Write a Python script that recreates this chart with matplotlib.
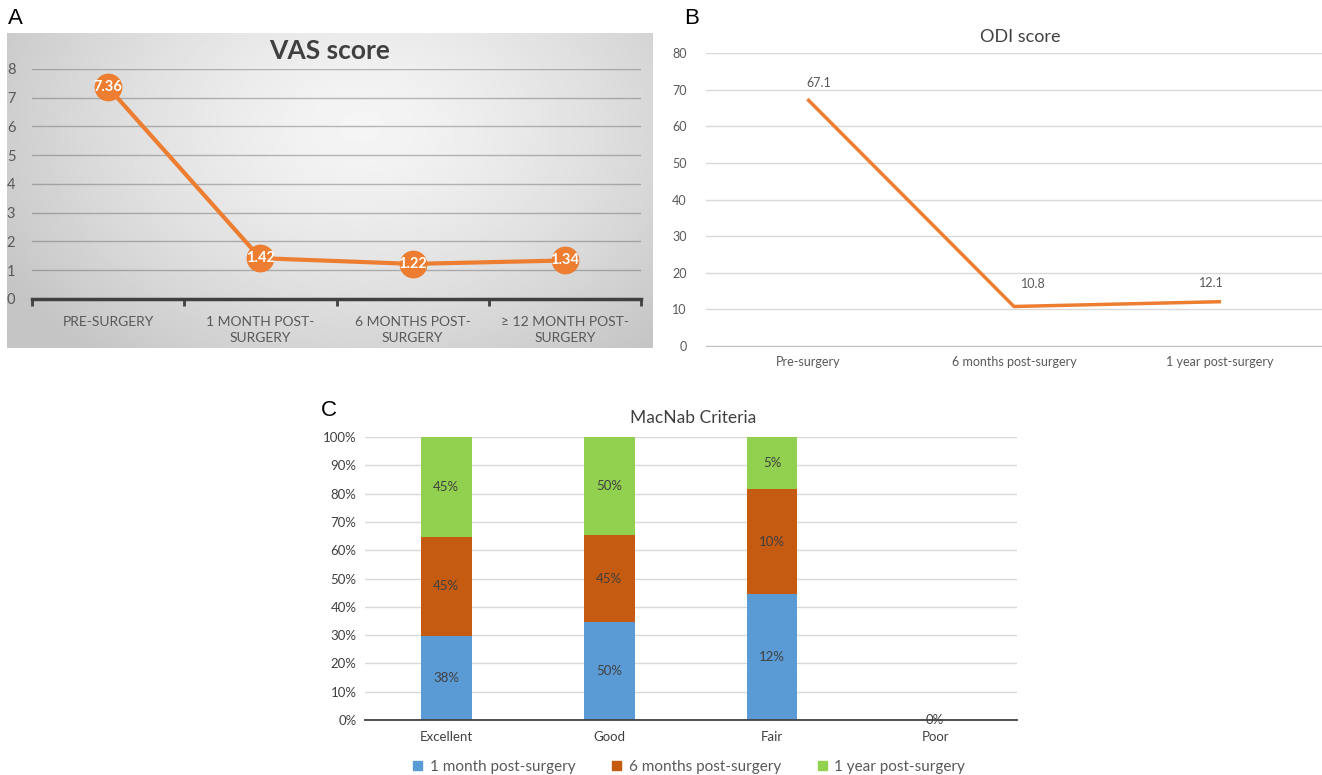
import numpy as np
import matplotlib.pyplot as plt
from matplotlib.patches import Patch

plt.rcParams['font.family'] = ['Lato', 'DejaVu Sans']

# panel A - VAS
vas_labels = ['PRE-SURGERY', '1 MONTH POST-\nSURGERY', '6 MONTHS POST-\nSURGERY',
              '\u2265 12 MONTH POST-\nSURGERY']
vas_values = [7.36, 1.42, 1.22, 1.34]

# panel B - ODI
odi_labels = ['Pre-surgery', '6 months post-surgery', '1 year post-surgery']
odi_values = [67.1, 10.8, 12.1]

# panel C - MacNab
macnab_cats = ['Excellent', 'Good', 'Fair', 'Poor']
series_names = ['1 month post-surgery', '6 months post-surgery', '1 year post-surgery']
one_month = [38, 50, 12, 0]
six_months = [45, 45, 10, 0]
one_year = [45, 50, 5, 0]

ORANGE = '#ED7D31'
GREY_TXT = '#595959'
DARK_TXT = '#404040'

fig = plt.figure(figsize=(13.22, 7.75), dpi=100)

# ---------- panel A ----------
bg = fig.add_axes([0.0053, 0.551, 0.488, 0.4065], zorder=0)
yy, xx = np.mgrid[0:1:200j, 0:1:400j]
r = np.sqrt(((xx - 0.55) / 0.65) ** 2 + ((yy - 0.3) / 0.95) ** 2)
shade = 0.96 - 0.19 * np.clip(r, 0, 1) ** 1.4
bg.imshow(shade, cmap='gray', vmin=0, vmax=1, aspect='auto', interpolation='bilinear')
bg.axis('off')

ax_a = fig.add_axes([0.0242, 0.6142, 0.4607, 0.2968], zorder=1)
ax_a.patch.set_visible(False)
xa = np.arange(len(vas_values))
ax_a.plot(xa, vas_values, color=ORANGE, lw=3, marker='o', ms=19, zorder=3)
for x, v in zip(xa, vas_values):
    ax_a.text(x, v, f'{v:.2f}', ha='center', va='center', color='white',
              fontweight='bold', fontsize=10.5, zorder=4)
ax_a.set_xlim(-0.5, len(vas_values) - 0.5)
ax_a.set_ylim(0, 8)
ax_a.set_yticks(range(0, 9))
for y in range(1, 9):
    ax_a.axhline(y, color=(0.35, 0.35, 0.35, 0.4), lw=1, zorder=1)
ax_a.tick_params(axis='y', length=0, pad=12, labelsize=10.5, labelcolor=GREY_TXT)
ax_a.set_xticks(xa)
ax_a.set_xticklabels(vas_labels, fontsize=10, color=GREY_TXT, linespacing=1.45)
ax_a.set_xticks(np.arange(-0.5, len(vas_values)), minor=True)
ax_a.tick_params(axis='x', which='major', length=0, pad=12)
ax_a.tick_params(axis='x', which='minor', length=5, width=2, color=DARK_TXT, direction='out')
for s in ['top', 'right', 'left']:
    ax_a.spines[s].set_visible(False)
ax_a.spines['bottom'].set_color(DARK_TXT)
ax_a.spines['bottom'].set_linewidth(2.5)
fig.text(330 / 1322, 1 - 51 / 775, 'VAS score', ha='center', va='center',
         fontsize=19, fontweight='bold', color=DARK_TXT)

# ---------- panel B ----------
ax_b = fig.add_axes([0.534, 0.5535, 0.466, 0.378])
xb = np.arange(len(odi_values))
ax_b.plot(xb, odi_values, color=ORANGE, lw=2.5, zorder=3)
label_offsets = [(7, 8), (14, 12), (-6, 9)]
for x, v, off in zip(xb, odi_values, label_offsets):
    ax_b.annotate(f'{v}', (x, v), xytext=off, textcoords='offset points',
                  ha='center', va='bottom', fontsize=9, color=GREY_TXT)
ax_b.set_xlim(-0.5, len(odi_values) - 0.5)
ax_b.set_ylim(0, 80)
ax_b.set_yticks(range(0, 81, 10))
ax_b.yaxis.grid(True, color='#d9d9d9', lw=1)
ax_b.set_axisbelow(True)
ax_b.set_xticks(xb)
ax_b.set_xticklabels(odi_labels)
ax_b.tick_params(axis='both', length=0, labelsize=9, labelcolor=GREY_TXT)
ax_b.tick_params(axis='y', pad=14)
ax_b.tick_params(axis='x', pad=7)
for s in ['top', 'right', 'left']:
    ax_b.spines[s].set_visible(False)
ax_b.spines['bottom'].set_color('#bfbfbf')
fig.text(1020 / 1322, 1 - 37 / 775, 'ODI score', ha='center', va='center',
         fontsize=13, color=DARK_TXT)

# ---------- panel C ----------
ax_c = fig.add_axes([0.276, 0.071, 0.493, 0.365])
data = np.array([one_month, six_months, one_year], dtype=float)
totals = data.sum(axis=0)
share = np.divide(data, totals, out=np.zeros_like(data), where=totals > 0) * 100
colors = ['#5B9BD5', '#C55A11', '#92D050']
xc = np.arange(len(macnab_cats))
bottom = np.zeros(len(macnab_cats))
for k, (raw, sh, col, name) in enumerate(zip(data, share, colors, series_names)):
    ax_c.bar(xc, sh, bottom=bottom, width=0.31, color=col, label=name, zorder=2)
    for x, b, h, v, t in zip(xc, bottom, sh, raw, totals):
        if t == 0 and k > 0:
            continue  # all-zero column: one label only
        ax_c.text(x, b + h / 2, f'{int(v)}%', ha='center', va='center',
                  fontsize=9.5, color=DARK_TXT, zorder=2)
    bottom += sh
ax_c.set_xlim(-0.5, len(macnab_cats) - 0.5)
ax_c.set_ylim(0, 100)
ax_c.set_yticks(range(0, 101, 10))
ax_c.set_yticklabels([f'{t}%' for t in range(0, 101, 10)])
ax_c.yaxis.grid(True, color='#d9d9d9', lw=1)
ax_c.set_axisbelow(True)
ax_c.set_xticks(xc)
ax_c.set_xticklabels(macnab_cats)
ax_c.tick_params(axis='both', length=0, labelsize=9.5, labelcolor=DARK_TXT)
ax_c.tick_params(axis='y', pad=6)
ax_c.tick_params(axis='x', pad=8)
for s in ['top', 'right', 'left']:
    ax_c.spines[s].set_visible(False)
ax_c.spines['bottom'].set_color(DARK_TXT)
ax_c.spines['bottom'].set_linewidth(1.3)
ax_c.spines['bottom'].set_zorder(3)
fig.text(693 / 1322, 1 - 418 / 775, 'MacNab Criteria', ha='center', va='center',
         fontsize=12.5, color=DARK_TXT)
handles = [Patch(color=c, label=n) for c, n in zip(colors, series_names)]
fig.legend(handles=handles, loc='center', bbox_to_anchor=(689 / 1322, 1 - 767 / 775),
           ncol=3, frameon=False, fontsize=11, handlelength=0.6, handleheight=0.6,
           handletextpad=0.5, columnspacing=2.4, labelcolor=GREY_TXT)

# panel letters
for lx, ly, letter in [(15, 18, 'A'), (692, 18, 'B'), (329, 410, 'C')]:
    fig.text(lx / 1322, 1 - ly / 775, letter, ha='center', va='center',
             fontsize=16, family='Liberation Sans')

fig.savefig('out.png', dpi=100)
